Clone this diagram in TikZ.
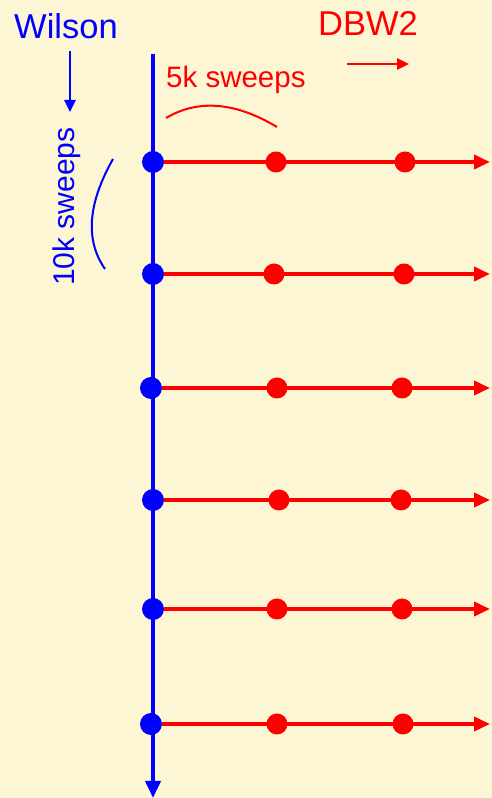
\documentclass[tikz,border=0pt]{standalone}
\usepackage{fontspec}
\setmainfont{Liberation Sans}
\usetikzlibrary{arrows.meta}
\definecolor{bg}{RGB}{252,246,212}
\definecolor{wblue}{RGB}{0,0,255}
\definecolor{dred}{RGB}{255,0,0}
\begin{document}
\begin{tikzpicture}[x=1pt,y=1pt,
  bdot/.style={circle,fill=wblue,inner sep=0pt,minimum size=22pt},
  rdot/.style={circle,fill=dred,inner sep=0pt,minimum size=21pt},
  redline/.style={draw=dred,line width=3.8pt,-{Triangle[length=16pt,width=14pt]}},
  mainline/.style={draw=wblue,line width=3.8pt,-{Triangle[length=17pt,width=15pt]}},
  lbl/.style={inner sep=0pt,font=\fontsize{29.5}{31}\selectfont}]
\fill[bg] (0,0) rectangle (492,798);
\useasboundingbox (0,0) rectangle (492,798);
% main blue line
\coordinate (top) at (153,744);
\coordinate (bot) at (153,0);
\path[mainline] (top) -- (bot);
% rows
\foreach \i/\bx/\y/\ra/\rb in {1/153/636/276/405, 2/153/524/274/404, 3/151/410/277/402, 4/153/298/279/401, 5/153/189/277/402, 6/151/74/277/403}{
  \node[bdot] (b\i) at (\bx,\y) {};
  \coordinate (e\i) at (490,\y);
  \path[redline] (b\i) -- (e\i);
  \node[rdot] (r\i a) at (\ra,\y) {};
  \node[rdot] (r\i b) at (\rb,\y) {};
}
% labels
\node[lbl,font=\fontsize{34.5}{36}\selectfont,text=wblue,anchor=base west] (wil) at (14,759) {Wilson};
\node[lbl,font=\fontsize{34.5}{36}\selectfont,text=dred,anchor=base west] (dbw) at (318,762) {DBW2};
\node[lbl,text=dred,anchor=base west] (five) at (166,710) {5k sweeps};
\node[lbl,font=\fontsize{30}{32}\selectfont,text=wblue,anchor=base west,rotate=90] (ten) at (74,512) {10k sweeps};
% small arrows
\coordinate (wa1) at (70,747);
\coordinate (wa2) at (70,686);
\draw[wblue,line width=2.5pt,-{Triangle[length=12pt,width=11pt]}] (wa1) -- (wa2);
\coordinate (da1) at (347,734);
\coordinate (da2) at (409,734);
\draw[dred,line width=2.5pt,-{Triangle[length=12pt,width=11pt]}] (da1) -- (da2);
% arcs
\coordinate (ra1) at (166,680);
\coordinate (ra2) at (277,671);
\draw[dred,line width=2pt] (ra1) .. controls (198.3,699) and (235.3,696) .. (ra2);
\coordinate (ba1) at (113,639);
\coordinate (ba2) at (105,529);
\draw[wblue,line width=2pt] (ba1) .. controls (87.7,594.3) and (85,557.7) .. (ba2);
\end{tikzpicture}
\end{document}
